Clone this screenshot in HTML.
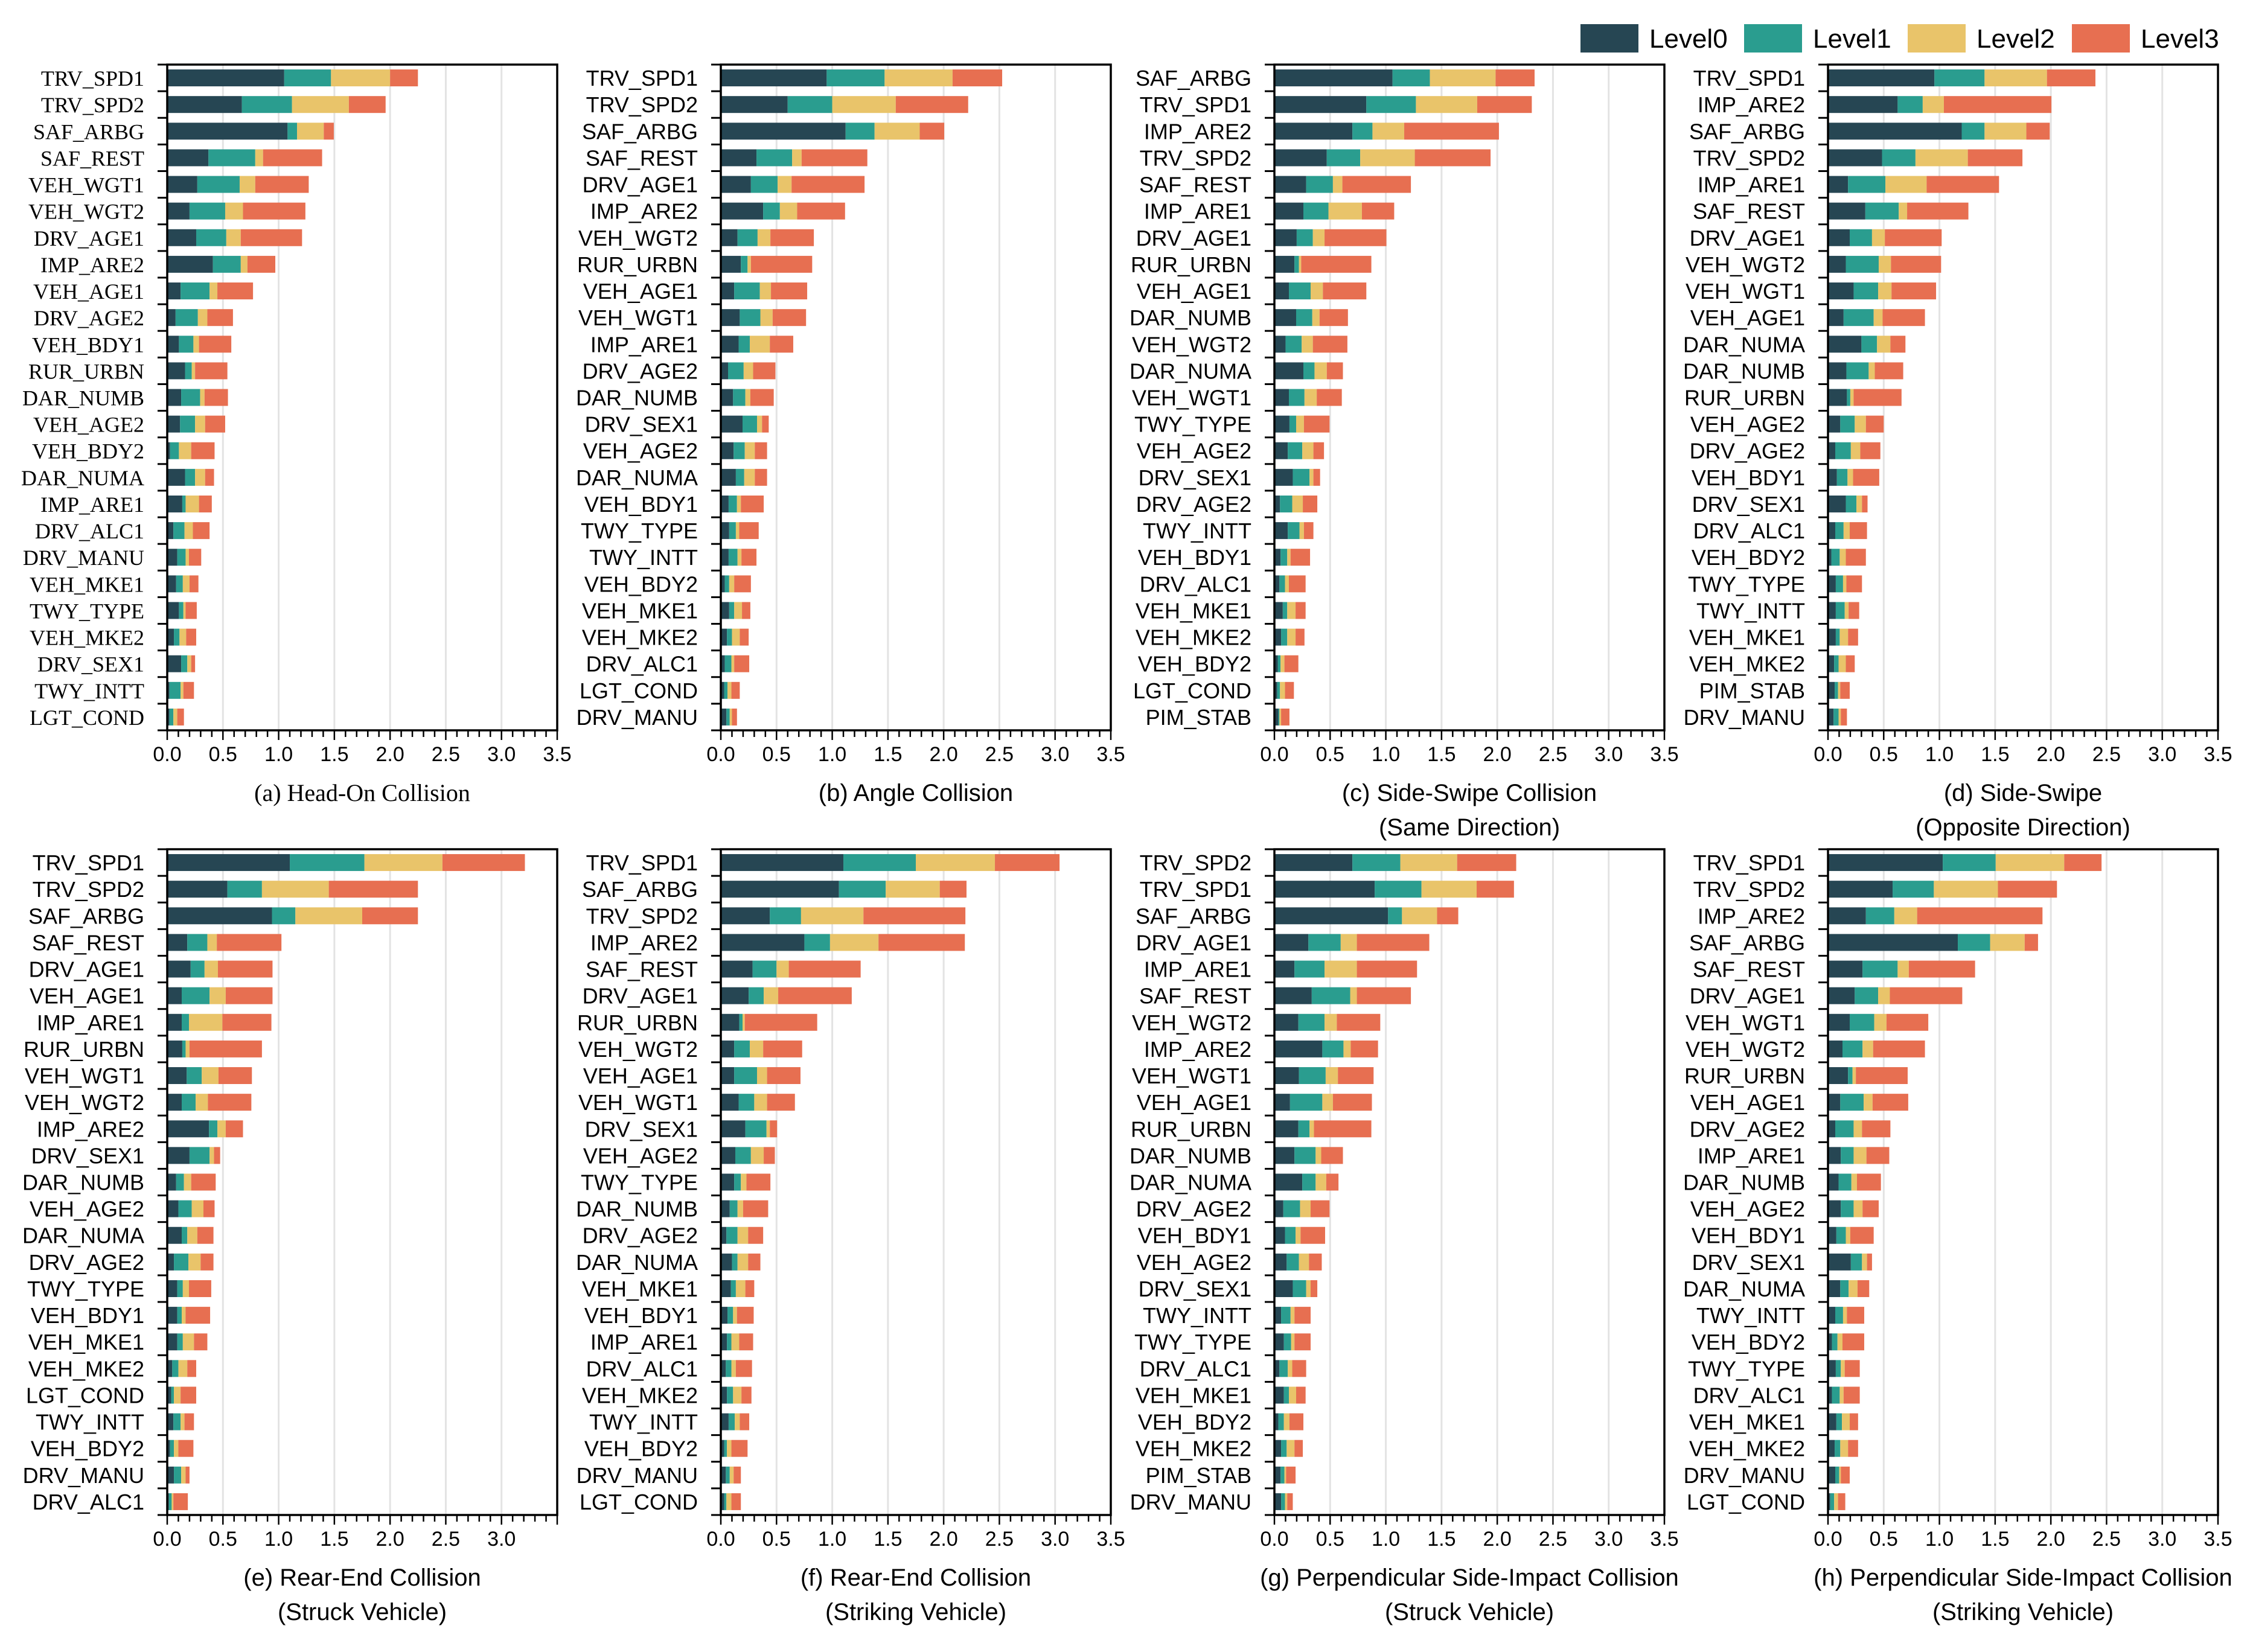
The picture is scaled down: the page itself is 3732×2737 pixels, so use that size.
<!DOCTYPE html>
<html><head><meta charset="utf-8"><title>Feature importance by collision type</title>
<style>html,body{margin:0;padding:0;background:#fff}svg{display:block}</style></head>
<body>
<svg id="chart" xmlns="http://www.w3.org/2000/svg" width="3732" height="2737" viewBox="0 0 3732 2737">
<g id="legend">
 <g><rect x="2618" y="40" width="96" height="47" fill="#264653"/><text x="2732" y="79" font-family="Liberation Sans, sans-serif" font-size="44">Level0</text></g>
 <g><rect x="2889" y="40" width="96" height="47" fill="#2a9d8f"/><text x="3003" y="79" font-family="Liberation Sans, sans-serif" font-size="44">Level1</text></g>
 <g><rect x="3160" y="40" width="96" height="47" fill="#e9c46a"/><text x="3274" y="79" font-family="Liberation Sans, sans-serif" font-size="44">Level2</text></g>
 <g><rect x="3432" y="40" width="96" height="47" fill="#e76f51"/><text x="3546" y="79" font-family="Liberation Sans, sans-serif" font-size="44">Level3</text></g>
</g>
</svg>
<script>
const colors=["#264653","#2a9d8f","#e9c46a","#e76f51"];
const xTicks=[0,0.5,1,1.5,2,2.5,3,3.5];
const xTickLabels=["0.0","0.5","1.0","1.5","2.0","2.5","3.0","3.5"];

const catsA=["TRV_SPD1","TRV_SPD2","SAF_ARBG","SAF_REST","VEH_WGT1","VEH_WGT2","DRV_AGE1","IMP_ARE2","VEH_AGE1","DRV_AGE2","VEH_BDY1","RUR_URBN","DAR_NUMB","VEH_AGE2","VEH_BDY2","DAR_NUMA","IMP_ARE1","DRV_ALC1","DRV_MANU","VEH_MKE1","TWY_TYPE","VEH_MKE2","DRV_SEX1","TWY_INTT","LGT_COND"];
const a0=[1.05,.67,1.08,.37,.27,.20,.26,.41,.12,.075,.105,.16,.125,.115,.025,.16,.135,.055,.09,.08,.105,.06,.125,.02,.02];
const a1=[.42,.45,.085,.42,.38,.32,.27,.25,.26,.20,.13,.06,.17,.135,.08,.09,.03,.10,.075,.06,.04,.05,.055,.10,.035];
const a2=[.53,.51,.24,.07,.14,.16,.13,.06,.07,.085,.05,.03,.04,.09,.11,.09,.12,.075,.03,.06,.02,.06,.035,.025,.035];
const a3=[.25,.33,.09,.53,.48,.56,.55,.25,.32,.23,.29,.29,.21,.18,.21,.08,.115,.15,.11,.08,.10,.09,.035,.095,.06];

const catsB=["TRV_SPD1","TRV_SPD2","SAF_ARBG","SAF_REST","DRV_AGE1","IMP_ARE2","VEH_WGT2","RUR_URBN","VEH_AGE1","VEH_WGT1","IMP_ARE1","DRV_AGE2","DAR_NUMB","DRV_SEX1","VEH_AGE2","DAR_NUMA","VEH_BDY1","TWY_TYPE","TWY_INTT","VEH_BDY2","VEH_MKE1","VEH_MKE2","DRV_ALC1","LGT_COND","DRV_MANU"];
const b0=[.95,.60,1.12,.32,.27,.38,.15,.18,.12,.17,.16,.065,.11,.195,.115,.135,.07,.075,.07,.035,.075,.055,.035,.03,.05];
const b1=[.52,.40,.26,.32,.24,.15,.18,.06,.23,.185,.10,.14,.11,.13,.10,.075,.075,.06,.08,.04,.045,.045,.06,.03,.03];
const b2=[.61,.57,.405,.085,.125,.155,.115,.03,.10,.11,.18,.085,.045,.045,.09,.095,.035,.03,.035,.045,.07,.07,.025,.035,.02];
const b3=[.445,.65,.22,.59,.655,.43,.39,.55,.325,.30,.21,.20,.21,.06,.11,.11,.205,.175,.135,.15,.075,.08,.135,.075,.045];

const catsC=["SAF_ARBG","TRV_SPD1","IMP_ARE2","TRV_SPD2","SAF_REST","IMP_ARE1","DRV_AGE1","RUR_URBN","VEH_AGE1","DAR_NUMB","VEH_WGT2","DAR_NUMA","VEH_WGT1","TWY_TYPE","VEH_AGE2","DRV_SEX1","DRV_AGE2","TWY_INTT","VEH_BDY1","DRV_ALC1","VEH_MKE1","VEH_MKE2","VEH_BDY2","LGT_COND","PIM_STAB"];
const c0=[1.06,.825,.70,.47,.285,.26,.20,.18,.13,.195,.10,.26,.13,.135,.12,.165,.05,.12,.055,.045,.075,.06,.03,.025,.035];
const c1=[.335,.445,.18,.30,.24,.225,.145,.04,.195,.145,.145,.10,.14,.06,.13,.15,.11,.105,.06,.05,.04,.055,.025,.025,.01];
const c2=[.59,.55,.285,.49,.085,.30,.105,.02,.11,.065,.10,.11,.11,.07,.10,.035,.095,.04,.03,.035,.075,.075,.035,.045,.015];
const c3=[.35,.49,.85,.68,.615,.29,.555,.63,.39,.255,.31,.145,.225,.23,.095,.06,.13,.085,.175,.15,.09,.08,.125,.08,.075];

const catsD=["TRV_SPD1","IMP_ARE2","SAF_ARBG","TRV_SPD2","IMP_ARE1","SAF_REST","DRV_AGE1","VEH_WGT2","VEH_WGT1","VEH_AGE1","DAR_NUMA","DAR_NUMB","RUR_URBN","VEH_AGE2","DRV_AGE2","VEH_BDY1","DRV_SEX1","DRV_ALC1","VEH_BDY2","TWY_TYPE","TWY_INTT","VEH_MKE1","VEH_MKE2","PIM_STAB","DRV_MANU"];
const d0=[.955,.625,1.20,.485,.18,.335,.195,.16,.23,.14,.30,.165,.17,.11,.065,.08,.16,.065,.03,.07,.07,.07,.055,.06,.05];
const d1=[.45,.225,.205,.30,.335,.30,.20,.295,.22,.27,.14,.20,.03,.13,.14,.095,.095,.075,.075,.065,.08,.035,.04,.03,.045];
const d2=[.56,.19,.375,.47,.37,.075,.115,.11,.12,.08,.12,.055,.03,.10,.085,.05,.05,.055,.055,.03,.035,.075,.065,.02,.02];
const d3=[.435,.965,.21,.49,.65,.55,.51,.45,.40,.38,.135,.255,.43,.16,.18,.235,.05,.155,.18,.14,.095,.09,.08,.085,.055];

const catsE=["TRV_SPD1","TRV_SPD2","SAF_ARBG","SAF_REST","DRV_AGE1","VEH_AGE1","IMP_ARE1","RUR_URBN","VEH_WGT1","VEH_WGT2","IMP_ARE2","DRV_SEX1","DAR_NUMB","VEH_AGE2","DAR_NUMA","DRV_AGE2","TWY_TYPE","VEH_BDY1","VEH_MKE1","VEH_MKE2","LGT_COND","TWY_INTT","VEH_BDY2","DRV_MANU","DRV_ALC1"];
const e0=[1.10,.54,.94,.18,.21,.13,.13,.135,.175,.13,.375,.20,.08,.10,.13,.06,.09,.09,.09,.045,.035,.055,.025,.06,.015];
const e1=[.67,.31,.21,.18,.125,.25,.065,.03,.135,.125,.075,.18,.07,.12,.05,.13,.05,.04,.05,.055,.025,.065,.035,.065,.025];
const e2=[.70,.60,.60,.085,.12,.145,.30,.035,.15,.11,.075,.04,.065,.105,.09,.11,.055,.035,.10,.08,.06,.035,.04,.04,.015];
const e3=[.74,.80,.50,.58,.49,.42,.44,.65,.30,.39,.155,.055,.22,.10,.145,.115,.20,.22,.12,.08,.14,.085,.135,.035,.13];

const catsF=["TRV_SPD1","SAF_ARBG","TRV_SPD2","IMP_ARE2","SAF_REST","DRV_AGE1","RUR_URBN","VEH_WGT2","VEH_AGE1","VEH_WGT1","DRV_SEX1","VEH_AGE2","TWY_TYPE","DAR_NUMB","DRV_AGE2","DAR_NUMA","VEH_MKE1","VEH_BDY1","IMP_ARE1","DRV_ALC1","VEH_MKE2","TWY_INTT","VEH_BDY2","DRV_MANU","LGT_COND"];
const f0=[1.10,1.06,.44,.75,.285,.25,.165,.12,.12,.16,.22,.13,.12,.08,.05,.10,.09,.06,.055,.045,.055,.07,.03,.045,.03];
const f1=[.65,.42,.28,.23,.215,.135,.03,.14,.205,.14,.19,.14,.06,.07,.10,.05,.045,.05,.04,.05,.055,.055,.025,.035,.02];
const f2=[.71,.485,.56,.435,.11,.13,.02,.12,.09,.115,.03,.115,.05,.05,.095,.095,.085,.035,.07,.04,.075,.045,.04,.035,.045];
const f3=[.58,.24,.915,.775,.645,.66,.65,.35,.30,.25,.065,.10,.215,.225,.135,.11,.08,.15,.125,.145,.09,.085,.145,.065,.085];

const catsG=["TRV_SPD2","TRV_SPD1","SAF_ARBG","DRV_AGE1","IMP_ARE1","SAF_REST","VEH_WGT2","IMP_ARE2","VEH_WGT1","VEH_AGE1","RUR_URBN","DAR_NUMB","DAR_NUMA","DRV_AGE2","VEH_BDY1","VEH_AGE2","DRV_SEX1","TWY_INTT","TWY_TYPE","DRV_ALC1","VEH_MKE1","VEH_BDY2","VEH_MKE2","PIM_STAB","DRV_MANU"];
const g0=[.70,.90,1.02,.305,.18,.335,.215,.43,.22,.14,.215,.18,.25,.08,.095,.11,.165,.06,.085,.045,.085,.035,.06,.055,.06];
const g1=[.43,.42,.125,.29,.27,.345,.235,.19,.24,.29,.10,.19,.12,.15,.095,.11,.12,.085,.065,.075,.045,.05,.05,.035,.035];
const g2=[.51,.495,.315,.145,.29,.06,.11,.065,.11,.095,.04,.05,.095,.095,.045,.09,.04,.035,.03,.04,.065,.05,.07,.015,.02];
const g3=[.53,.335,.19,.65,.54,.485,.39,.245,.32,.35,.515,.195,.11,.17,.22,.115,.06,.145,.145,.125,.085,.125,.075,.085,.05];

const catsH=["TRV_SPD1","TRV_SPD2","IMP_ARE2","SAF_ARBG","SAF_REST","DRV_AGE1","VEH_WGT1","VEH_WGT2","RUR_URBN","VEH_AGE1","DRV_AGE2","IMP_ARE1","DAR_NUMB","VEH_AGE2","VEH_BDY1","DRV_SEX1","DAR_NUMA","TWY_INTT","VEH_BDY2","TWY_TYPE","DRV_ALC1","VEH_MKE1","VEH_MKE2","DRV_MANU","LGT_COND"];
const h0=[1.03,.58,.34,1.165,.31,.24,.195,.13,.18,.11,.065,.115,.095,.115,.075,.205,.11,.065,.035,.07,.035,.075,.06,.065,.02];
const h1=[.475,.37,.255,.29,.315,.21,.22,.18,.04,.21,.165,.115,.115,.115,.085,.10,.075,.07,.05,.045,.07,.05,.05,.035,.035];
const h2=[.615,.575,.205,.31,.10,.105,.11,.095,.03,.08,.075,.115,.05,.08,.04,.045,.08,.035,.045,.035,.035,.07,.07,.015,.035];
const h3=[.335,.53,1.125,.12,.595,.65,.375,.465,.465,.32,.255,.205,.215,.145,.21,.045,.105,.155,.195,.135,.145,.075,.09,.08,.065];

const panels=[
 {id:"a",cats:catsA,vals:[a0,a1,a2,a3],x:277,y:107,serif:true,title:["(a) Head-On Collision"],labels:xTickLabels},
 {id:"b",cats:catsB,vals:[b0,b1,b2,b3],x:1194,y:107,title:["(b) Angle Collision"],labels:xTickLabels},
 {id:"c",cats:catsC,vals:[c0,c1,c2,c3],x:2111,y:107,title:["(c) Side-Swipe Collision","(Same Direction)"],labels:xTickLabels},
 {id:"d",cats:catsD,vals:[d0,d1,d2,d3],x:3028,y:107,title:["(d) Side-Swipe","(Opposite Direction)"],labels:xTickLabels},
 {id:"e",cats:catsE,vals:[e0,e1,e2,e3],x:277,y:1407,title:["(e) Rear-End Collision","(Struck Vehicle)"],labels:xTickLabels.slice(0,7)},
 {id:"f",cats:catsF,vals:[f0,f1,f2,f3],x:1194,y:1407,title:["(f) Rear-End Collision","(Striking Vehicle)"],labels:xTickLabels},
 {id:"g",cats:catsG,vals:[g0,g1,g2,g3],x:2111,y:1407,title:["(g) Perpendicular Side-Impact Collision","(Struck Vehicle)"],labels:xTickLabels},
 {id:"h",cats:catsH,vals:[h0,h1,h2,h3],x:3028,y:1407,title:["(h) Perpendicular Side-Impact Collision","(Striking Vehicle)"],labels:xTickLabels}
];
const NS="http://www.w3.org/2000/svg";
const svg=document.getElementById("chart");
const W=646,H=1103,XMAX=3.5;
function mk(tag,attrs,parent){const el=document.createElementNS(NS,tag);for(const k in attrs)el.setAttribute(k,attrs[k]);parent.appendChild(el);return el;}
panels.forEach(p=>{
 const g=mk("g",{},svg);
 
 
 const xs=v=>p.x+v/XMAX*W;
 const n=p.cats.length,step=H/n,bh=28;
 const ys=i=>p.y+step*(i+0.5);
 const sans="Liberation Sans, sans-serif",serif="Liberation Serif, serif";
 const lf=p.serif?serif:sans;
 // grid
 xTicks.forEach((t,i)=>{if(i===0||i===xTicks.length-1)return;
  const l=mk("line",{x1:xs(t),x2:xs(t),y1:p.y,y2:p.y+H,stroke:"#e3e3e3","stroke-width":3},g);
  
  
 });
 // bars
 for(let i=0;i<n;i++){
  let acc=0;
  for(let k=0;k<4;k++){
   const v=p.vals[k][i];
   const r=mk("rect",{x:xs(acc),y:ys(i)-bh/2,width:Math.max(0,xs(acc+v)-xs(acc)),height:bh,fill:colors[k]},g);
   
   
   acc+=v;
  }
  const t=mk("text",{x:p.x-38,y:ys(i)+13,"text-anchor":"end","font-family":lf,"font-size":36},g);
  t.textContent=p.cats[i];
  
  
 }
 // y ticks at boundaries
 for(let i=0;i<=n;i++){
  const l=mk("line",{x1:p.x-16,x2:p.x,y1:p.y+step*i,y2:p.y+step*i,stroke:"#000","stroke-width":3},g);
  
  
 }
 // x minor/major ticks
 for(let m=0;m<=35;m++){
  const v=m/10;
  const l=mk("line",{x1:xs(v),x2:xs(v),y1:p.y+H,y2:p.y+H+(m%5===0?16:11),stroke:"#000","stroke-width":2.5},g);
  
  
 }
 p.labels.forEach((lab,i)=>{
  const t=mk("text",{x:xs(xTicks[i]),y:p.y+H+51,"text-anchor":"middle","font-family":sans,"font-size":34},g);
  t.textContent=lab;
  
  
 });
 // frame
 const fr=mk("rect",{x:p.x,y:p.y,width:W,height:H,fill:"none",stroke:"#000","stroke-width":3.5},g);
 
 
 // title
 p.title.forEach((line,j)=>{
  const t=mk("text",{x:p.x+W/2,y:p.y+H+117+j*57,"text-anchor":"middle","font-family":p.serif?serif:sans,"font-size":40},g);
  t.textContent=line;
  
  
 });
});
</script>
</body></html>
